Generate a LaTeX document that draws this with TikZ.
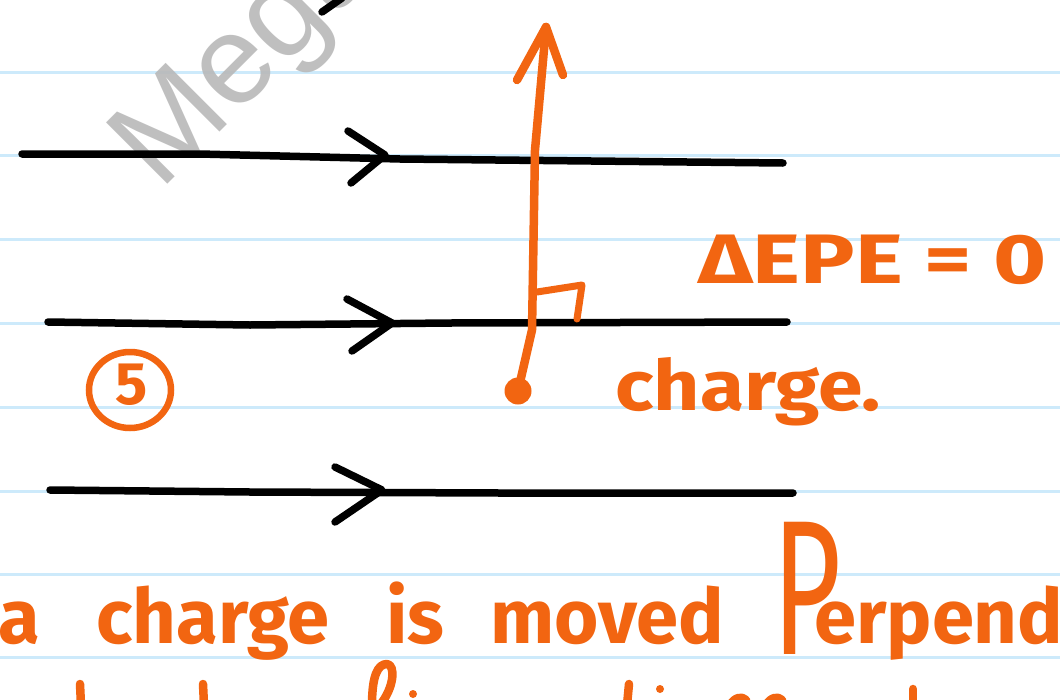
\documentclass[tikz,border=0pt]{standalone}
\usepackage{fontspec}
\setmainfont{Fira Sans}
\newfontfamily\wmfont{Liberation Sans}
\definecolor{pen}{HTML}{F26511}
\definecolor{rulecol}{HTML}{CDEAFB}
\definecolor{wmcol}{HTML}{B9B9B9}
\tikzset{
  rulestroke/.style={rulecol, line width=3pt},
  fieldline/.style={black, line width=7.5pt, line cap=round, line join=round},
  penline/.style={pen, line width=8.5pt, line cap=round, line join=round},
  pentext/.style={pen, inner sep=0pt, font=\bfseries\fontsize{#1}{#1}\selectfont},
  chargedot/.style={circle, fill=pen, minimum size=27pt, inner sep=0pt},
}
\begin{document}
\begin{tikzpicture}[x=1pt,y=-1pt]
\useasboundingbox (0,0) rectangle (1060,699);
\clip (0,0) rectangle (1060,699);
\fill[white] (0,0) rectangle (1060,699);
% ruled paper
\foreach \yy in {72,155,239,323,407,491,574,657}
  \draw[rulestroke] (0,\yy) -- (1060,\yy);
% watermark
\node[wmcol, opacity=0.9, inner sep=0pt, rotate=45, anchor=base west,
      font=\wmfont\fontsize{126}{126}\selectfont] (wm) at (160,192) {Mega};
% stray stroke at top
\coordinate (s1) at (322,12); \coordinate (s2) at (342,-2);
\draw[fieldline] (s1) -- (s2);
% field lines
\coordinate (f1s) at (22,154);  \coordinate (f1e) at (783,163);
\coordinate (f2s) at (48,322);  \coordinate (f2e) at (787,322);
\coordinate (f3s) at (50,490);  \coordinate (f3e) at (793,493);
\draw[fieldline] (f1s) -- (200,154) -- (400,159) -- (f1e);
\draw[fieldline] (f2s) -- (250,325) -- (450,323) -- (f2e);
\draw[fieldline] (f3s) -- (250,492) -- (500,493) -- (f3e);
% chevrons
\coordinate (c1a) at (348,131); \coordinate (c1t) at (385,155); \coordinate (c1b) at (351,183);
\coordinate (c2a) at (347,299); \coordinate (c2t) at (392,323); \coordinate (c2b) at (352,351);
\coordinate (c3a) at (335,467); \coordinate (c3t) at (382,490); \coordinate (c3b) at (335,522);
\draw[fieldline] (c1a) -- (c1t) -- (c1b);
\draw[fieldline] (c2a) -- (c2t) -- (c2b);
\draw[fieldline] (c3a) -- (c3t) -- (c3b);
% charge and displacement arrow
\node[chargedot] (q) at (518,391) {};
\coordinate (tip) at (546,27);
\coordinate (hl) at (517,80); \coordinate (hr) at (563,75);
\draw[penline] (q.center) -- (532,330) -- (535,150) -- (tip);
\draw[penline] (hl) -- (tip) -- (hr);
% right-angle mark
\coordinate (r1) at (537,292); \coordinate (r2) at (582,285); \coordinate (r3) at (577,319);
\draw[penline, line width=7pt] (r1) -- (r2) -- (r3);
% labels
\node[pentext=70, anchor=base west, xscale=1.3] (epe) at (698,283) {ΔEPE = 0};
\node[pentext=70, anchor=base west, xscale=1.15] (chg) at (615,410) {charge.};
% circled 5
\draw[pen, line width=6.5pt] (130,390) ellipse [x radius=41pt, y radius=38pt];
\node[pentext=60] (five) at (132,385) {5};
% bottom sentence
\node[pentext=76, anchor=base east] (wa) at (40,643) {a};
\node[pentext=76, anchor=base west] (wcharge) at (96,643) {charge};
\node[pentext=76, anchor=base west] (wis) at (386,643) {is};
\node[pentext=76, anchor=base west] (wmoved) at (490,643) {moved};
\node[pen, inner sep=0pt, font=\fontsize{192}{192}\selectfont, anchor=base west, xscale=0.62] (wP) at (772,654) {P};
\node[pentext=76, anchor=base west] (werp) at (814,643) {erpendicular};
% tops of the next line
\draw[penline] (80,684) -- (81,705);
\draw[penline] (203,684) -- (204,705);
\draw[penline] (372,705) .. controls (372,675) and (378,664) .. (387,664) .. controls (396,665) and (394,688) .. (380,705);
\fill[pen] (413,694) circle (4pt);
\draw[penline] (627,705) -- (629,684);
\fill[pen] (660,689) circle (4pt);
\draw[penline] (913,705) -- (913,689);
\draw[penline] (730,705) .. controls (735,697) and (742,696) .. (746,700);
\draw[penline] (766,705) .. controls (771,697) and (778,696) .. (782,700);
\end{tikzpicture}
\end{document}
